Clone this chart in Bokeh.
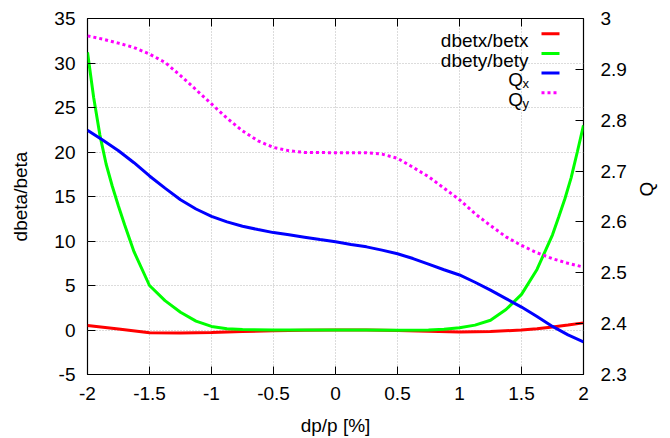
import math
from bokeh.plotting import figure
from bokeh.models import Range1d, LinearAxis, FixedTicker, Label, CustomJSTickFormatter
from bokeh.embed import file_html
from bokeh.resources import INLINE

# ---- data ----
x_q = [-2.0, -1.875, -1.75, -1.625, -1.5, -1.375, -1.25, -1.125, -1.0, -0.875, -0.75, -0.625, -0.5, -0.375,
       -0.25, -0.125, 0.0, 0.125, 0.25, 0.375, 0.5, 0.625, 0.75, 0.875, 1.0, 1.125, 1.25, 1.375, 1.5, 1.625,
       1.75, 1.875, 2.0]
qx = [2.7803, 2.7607, 2.740, 2.7164, 2.6904, 2.6664, 2.6436, 2.6254, 2.611, 2.600, 2.5914, 2.585, 2.579, 2.5746,
      2.570, 2.5654, 2.561, 2.5557, 2.551, 2.5445, 2.5375, 2.528, 2.517, 2.506, 2.4957, 2.4814, 2.4658, 2.4492,
      2.4326, 2.414, 2.3945, 2.378, 2.3643]
qy = [2.9658, 2.9594, 2.9515, 2.943, 2.930, 2.9137, 2.8877, 2.860, 2.832, 2.804, 2.779, 2.7594, 2.7465, 2.740,
      2.7367, 2.7365, 2.736, 2.736, 2.736, 2.7334, 2.725, 2.7074, 2.689, 2.6664, 2.6436, 2.6162, 2.5928, 2.5707,
      2.5537, 2.5394, 2.5277, 2.5186, 2.5113]

x_bx = [-2.0, -1.75, -1.5, -1.25, -1.0, -0.75, -0.5, -0.25, 0.0, 0.25, 0.5, 0.75, 1.0, 1.25, 1.5, 1.625, 1.75,
        1.875, 2.0]
dbetx = [0.5, 0.1, -0.3, -0.35, -0.28, -0.16, -0.09, -0.03, 0.0, 0.0, -0.05, -0.15, -0.22, -0.17, 0.0, 0.15, 0.35,
         0.55, 0.8]

x_by = [-2.0, -1.95, -1.9, -1.85, -1.8, -1.75, -1.7, -1.625, -1.5, -1.375, -1.25, -1.125, -1.0, -0.875, -0.75,
        -0.5, -0.25, 0.0, 0.25, 0.5, 0.75, 0.875, 1.0, 1.125, 1.25, 1.375, 1.5, 1.625, 1.75, 1.8, 1.85, 1.9, 1.95, 2.0]
dbety = [31.2, 26.1, 21.9, 18.65, 16.15, 13.9, 11.8, 8.8, 5.0, 3.3, 2.0, 1.0, 0.4, 0.15, 0.05,
         0.0, 0.0, 0.0, 0.0, -0.03, 0.0, 0.08, 0.25, 0.55, 1.1, 2.3, 4.0, 6.8, 10.7, 12.7, 14.75, 17.1, 20.0, 23.0]

x_ticks = [-2, -1.5, -1, -0.5, 0, 0.5, 1, 1.5, 2]
y_ticks = [-5, 0, 5, 10, 15, 20, 25, 30, 35]
q_ticks = [2.3, 2.4, 2.5, 2.6, 2.7, 2.8, 2.9, 3.0]

legend_labels = ["dbetx/betx", "dbety/bety", "Q", "Q"]
legend_subs = ["", "", "x", "y"]

# ---- layout ----
W, H = 670, 438
BL, BR, BT, BB = 87, 87, 18, 62
X0, X1, Y0, Y1 = -2, 2, -5, 35
FONT = "Liberation Sans"
FS = "19px"
TICK = 8

p = figure(width=W, height=H, x_range=Range1d(X0, X1), y_range=Range1d(Y0, Y1),
           output_backend="svg", toolbar_location=None,
           min_border_left=BL, min_border_right=BR, min_border_top=BT, min_border_bottom=BB)
p.extra_y_ranges = {"q": Range1d(2.3, 3.0)}
p.background_fill_color = "white"
p.border_fill_color = "white"
p.outline_line_color = "black"
p.outline_line_width = 1.2

fw = W - BL - BR
fh = H - BT - BB


def px_x(px):
    return X0 + (px - BL) / fw * (X1 - X0)


def px_y(py):
    return Y1 - (py - BT) / fh * (Y1 - Y0)


fmt = CustomJSTickFormatter(code="return String(tick);")


def style_axis(ax, ticks):
    ax.ticker = FixedTicker(ticks=ticks)
    ax.formatter = fmt
    ax.axis_line_color = None
    ax.major_tick_in = TICK
    ax.major_tick_out = 0
    ax.major_tick_line_color = "black"
    ax.major_tick_line_width = 1
    ax.minor_tick_line_color = None
    ax.major_label_text_font = FONT
    ax.major_label_text_font_size = FS
    ax.major_label_text_color = "black"
    ax.axis_label_text_font = FONT
    ax.axis_label_text_font_size = FS
    ax.axis_label_text_font_style = "normal"
    ax.axis_label_text_color = "black"


xa = p.xaxis[0]
style_axis(xa, x_ticks)
xa.axis_label = "dp/p [%]"
xa.major_label_standoff = 12
xa.axis_label_standoff = 12

ya = p.yaxis[0]
style_axis(ya, y_ticks)
ya.axis_label = "dbeta/beta"
ya.major_label_standoff = 12
ya.axis_label_standoff = 20

ra = LinearAxis(y_range_name="q", axis_label="Q")
style_axis(ra, q_ticks)
ra.major_label_standoff = 17
ra.axis_label_standoff = 17
if "axis_label_orientation" in ra.properties():
    ra.axis_label_orientation = math.pi / 2
p.add_layout(ra, "right")

# mirrored x ticks on the top border
tick_len = TICK / fh * (Y1 - Y0)
p.segment(x0=x_ticks, y0=[Y1] * len(x_ticks), x1=x_ticks, y1=[Y1 - tick_len] * len(x_ticks),
          line_color="black", line_width=1)

for g in (p.xgrid[0], p.ygrid[0]):
    g.grid_line_color = "#b8b8b8"
    g.grid_line_dash = "1 2"
    g.grid_line_width = 1
p.xgrid[0].ticker = FixedTicker(ticks=x_ticks)
p.ygrid[0].ticker = FixedTicker(ticks=y_ticks)

RED, GREEN, BLUE, MAG = "#ff0000", "#00ff00", "#0000ff", "#ff00ff"
LW = 3

p.line(x_bx, dbetx, line_color=RED, line_width=LW)
p.line(x_by, dbety, line_color=GREEN, line_width=LW)
p.line(x_q, qx, line_color=BLUE, line_width=LW, y_range_name="q")
p.line(x_q, qy, line_color=MAG, line_width=LW, line_dash="3 3", y_range_name="q")

# ---- legend (gnuplot style: text then sample) ----
row0, drow = 33.3, 19.8
text_right = 528
sample_l, sample_r = 541, 559
colors = [RED, GREEN, BLUE, MAG]
dashes = ["solid", "solid", "solid", "3 3"]
for i, (lab, sub) in enumerate(zip(legend_labels, legend_subs)):
    ry = row0 + drow * i
    if sub:
        p.add_layout(Label(x=px_x(text_right - 5.5), y=px_y(ry + 6.8), text=lab, text_align="right",
                           text_baseline="alphabetic", text_font=FONT, text_font_size=FS, text_color="black"))
        p.add_layout(Label(x=px_x(text_right - 6), y=px_y(ry + 10.5), text=sub, text_align="left",
                           text_baseline="alphabetic", text_font=FONT, text_font_size="13px", text_color="black"))
    else:
        p.add_layout(Label(x=px_x(text_right), y=px_y(ry + 6.8), text=lab, text_align="right",
                           text_baseline="alphabetic", text_font=FONT, text_font_size=FS, text_color="black"))
    p.line([px_x(sample_l), px_x(sample_r)], [px_y(ry), px_y(ry)], line_color=colors[i],
           line_width=LW, line_dash=dashes[i])

open("out.html", "w").write(file_html(p, INLINE))
